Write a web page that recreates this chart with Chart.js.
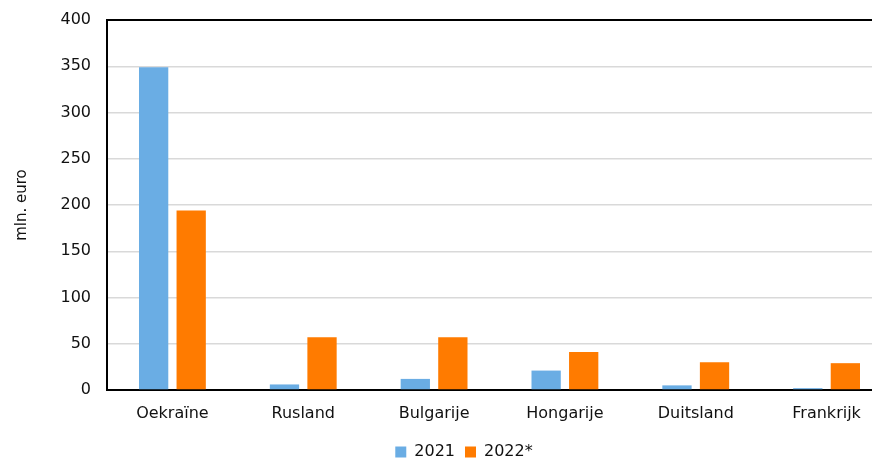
<!DOCTYPE html>
<html>
<head>
<meta charset="utf-8">
<script src="https://cdn.jsdelivr.net/npm/chart.js@4/dist/chart.umd.min.js"></script>
<style>
  body { margin: 0; background: #fff; overflow: hidden; }
  #wrap { width: 892px; height: 460px; }
</style>
</head>
<body>
<div id="wrap"><canvas id="myChart"></canvas></div>
<script>
var labels = ["Oekraïne", "Rusland", "Bulgarije", "Hongarije", "Duitsland", "Frankrijk"];
var values2021 = [349, 6, 12, 21, 5, 2];
var values2022 = [194, 57, 57, 41, 30, 29];
var yTicks = [0, 50, 100, 150, 200, 250, 300, 350, 400];

Chart.defaults.font.family = "Verdana, 'DejaVu Sans', sans-serif";
Chart.defaults.font.size = 16;
Chart.defaults.color = "#111";

var ctx = document.getElementById("myChart");
var myChart = new Chart(ctx, {
    type: 'bar',
    data: {
        labels: labels,
        datasets: [{
                label: "2021",
                data: values2021,
                backgroundColor: "#6aade4"
            },
            {
                label: "2022*",
                data: values2022,
                backgroundColor: "#ff7b00"
            }
        ]
    },
    options: {
        responsive: true,
        maintainAspectRatio: false,
        animation: false,
        categoryPercentage: 0.574,
        barPercentage: 0.78,
        layout: { padding: { top: 20, right: 0, bottom: -10, left: 36 } },
        plugins: {
            tooltip: { enabled: false },
            legend: {
                position: 'bottom',
                labels: { boxWidth: 11, boxHeight: 11, padding: 10, font: { size: 16 } }
            }
        },
        scales: {
            x: {
                grid: { display: false },
                border: { color: "#000", width: 2 },
                ticks: { padding: 6, maxRotation: 0 },
                afterFit: function (scale) { scale.height = 44; }
            },
            y: {
                min: 0,
                max: 400,
                afterBuildTicks: function (scale) {
                    scale.ticks = yTicks.map(function (v) { return { value: v }; });
                },
                grid: {
                    color: function (c) { return c.tick && c.tick.value === 400 ? "#000" : "#d9d9d9"; },
                    lineWidth: function (c) { return c.tick && c.tick.value === 400 ? 2 : 1.5; },
                    drawTicks: false
                },
                border: { color: "#000", width: 2 },
                ticks: { padding: 16 },
                title: { display: true, text: "mln. euro", font: { size: 15 }, padding: { top: -23, bottom: 0 } },
                afterFit: function (scale) {
                    scale.width = 71;
                    scale.paddingTop = 0;
                    scale.paddingBottom = 0;
                }
            }
        }
    }
});
</script>
</body>
</html>
